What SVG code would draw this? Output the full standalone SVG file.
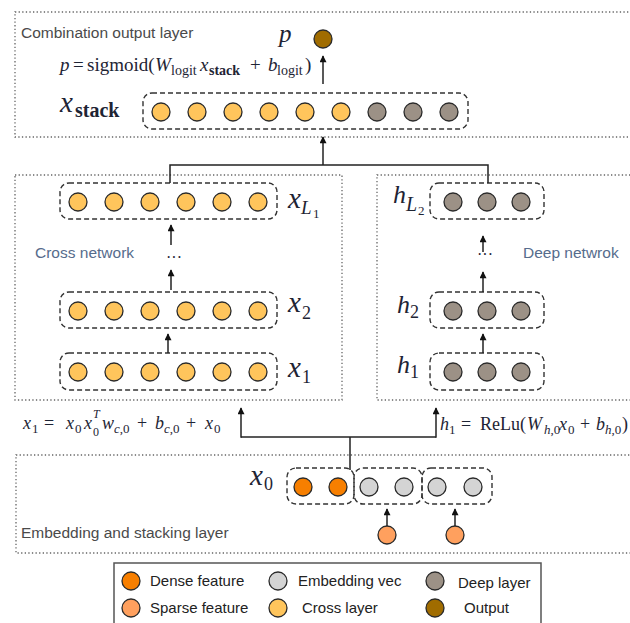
<svg xmlns="http://www.w3.org/2000/svg" width="630" height="623" viewBox="0 0 630 623">
<style>
.outer{fill:none;stroke:#666;stroke-width:1.3;stroke-dasharray:1.3 2.3}
.grp{fill:none;stroke:#333;stroke-width:1.4;stroke-dasharray:5 3}
.c{stroke:#2a2a2a;stroke-width:1.3}
.cross{fill:#FFC55C}
.deep{fill:#9C9186}
.emb{fill:#D4D4D4}
.dense{fill:#F77F00}
.sparse{fill:#FFA05E}
.out{fill:#A06C00}
.wire{fill:none;stroke:#222;stroke-width:1.5}
.arr{fill:none;stroke:#222;stroke-width:1.5;marker-end:url(#ah)}
.lbl{font-family:"Liberation Sans",Arial,sans-serif;font-size:15.5px}
.gray{fill:#4a4a4a}
.blue{fill:#566c8c}
.leg{font-family:"Liberation Sans",Arial,sans-serif;font-size:15px;fill:#222}
.math{font-family:"Liberation Serif","Times New Roman",serif;fill:#1e2434}
.it{font-style:italic}
</style>
<defs>
<marker id="ah" viewBox="0 0 10 10" refX="9" refY="5" markerWidth="8" markerHeight="7" orient="auto" markerUnits="userSpaceOnUse">
<path d="M0,0 L10,5 L0,10 z" fill="#111"/>
</marker>
</defs>

<!-- outer layer boxes -->
<g id="combination-layer">
<rect class="outer" x="15" y="12" width="640" height="125"/>
<text class="lbl gray" x="21" y="38">Combination output layer</text>
</g>
<g id="cross-network">
<rect class="outer" x="15" y="175" width="327" height="225"/>
<text class="lbl blue" x="35" y="258">Cross network</text>
</g>
<g id="deep-network">
<rect class="outer" x="377" y="175" width="270" height="225"/>
<text class="lbl blue" x="523" y="258">Deep netwrok</text>
</g>
<g id="embedding-layer">
<rect class="outer" x="16" y="455" width="640" height="98"/>
<text class="lbl gray" x="21" y="538">Embedding and stacking layer</text>
</g>

<!-- output -->
<g id="output">
<text class="math it" x="279" y="42" font-size="25">p</text>
<circle class="c out" cx="323" cy="39" r="9"/>
</g>
<g id="formula-p">
<text class="math" font-size="19" y="71"><tspan x="60" class="it">p</tspan><tspan x="73">=</tspan><tspan x="87">sigmoid(</tspan><tspan x="155" class="it">W</tspan><tspan x="171" y="75" font-size="14">logit</tspan><tspan x="200" y="71" class="it">x</tspan><tspan x="209" y="75" font-size="14" font-weight="bold">stack</tspan><tspan x="250" y="71">+</tspan><tspan x="268" class="it">b</tspan><tspan x="277" y="75" font-size="14">logit</tspan><tspan x="305" y="71">)</tspan></text>
</g>

<!-- stack -->
<g id="x-stack">
<text class="math" y="112"><tspan x="60" class="it" font-size="29">x</tspan><tspan x="75" y="117" font-size="20" font-weight="bold">stack</tspan></text>
<rect class="grp" x="143" y="93" width="325" height="36" rx="9"/>
<circle class="c cross" cx="161" cy="112" r="9"/>
<circle class="c cross" cx="197" cy="112" r="9"/>
<circle class="c cross" cx="233" cy="112" r="9"/>
<circle class="c cross" cx="269" cy="112" r="9"/>
<circle class="c cross" cx="305" cy="112" r="9"/>
<circle class="c cross" cx="341" cy="112" r="9"/>
<circle class="c deep" cx="377" cy="112" r="9"/>
<circle class="c deep" cx="413" cy="112" r="9"/>
<circle class="c deep" cx="449" cy="112" r="9"/>
</g>

<!-- cross layers -->
<g id="x-L1">
<rect class="grp" x="60" y="183" width="217" height="36" rx="9"/>
<circle class="c cross" cx="78" cy="202" r="9"/>
<circle class="c cross" cx="114" cy="202" r="9"/>
<circle class="c cross" cx="150" cy="202" r="9"/>
<circle class="c cross" cx="186" cy="202" r="9"/>
<circle class="c cross" cx="222" cy="202" r="9"/>
<circle class="c cross" cx="258" cy="202" r="9"/>
<text class="math" y="208"><tspan x="288" class="it" font-size="29">x</tspan><tspan x="301" y="214" class="it" font-size="19">L</tspan><tspan x="313" y="218" font-size="13">1</tspan></text>
</g>
<g id="x-2">
<rect class="grp" x="60" y="292" width="217" height="36" rx="9"/>
<circle class="c cross" cx="78" cy="311" r="9"/>
<circle class="c cross" cx="114" cy="311" r="9"/>
<circle class="c cross" cx="150" cy="311" r="9"/>
<circle class="c cross" cx="186" cy="311" r="9"/>
<circle class="c cross" cx="222" cy="311" r="9"/>
<circle class="c cross" cx="258" cy="311" r="9"/>
<text class="math" y="312"><tspan x="288" class="it" font-size="29">x</tspan><tspan x="302" y="319" font-size="18">2</tspan></text>
</g>
<g id="x-1">
<rect class="grp" x="60" y="353" width="217" height="37" rx="9"/>
<circle class="c cross" cx="78" cy="372" r="9"/>
<circle class="c cross" cx="114" cy="372" r="9"/>
<circle class="c cross" cx="150" cy="372" r="9"/>
<circle class="c cross" cx="186" cy="372" r="9"/>
<circle class="c cross" cx="222" cy="372" r="9"/>
<circle class="c cross" cx="258" cy="372" r="9"/>
<text class="math" y="377"><tspan x="288" class="it" font-size="29">x</tspan><tspan x="302" y="383" font-size="18">1</tspan></text>
</g>

<!-- deep layers -->
<g id="h-L2">
<rect class="grp" x="430" y="183" width="114" height="36" rx="9"/>
<circle class="c deep" cx="453" cy="202" r="9"/>
<circle class="c deep" cx="487" cy="202" r="9"/>
<circle class="c deep" cx="521" cy="202" r="9"/>
<text class="math" y="203"><tspan x="393" class="it" font-size="26">h</tspan><tspan x="406" y="211" class="it" font-size="20">L</tspan><tspan x="418" y="215" font-size="13">2</tspan></text>
</g>
<g id="h-2">
<rect class="grp" x="430" y="292" width="114" height="36" rx="9"/>
<circle class="c deep" cx="453" cy="311" r="9"/>
<circle class="c deep" cx="487" cy="311" r="9"/>
<circle class="c deep" cx="521" cy="311" r="9"/>
<text class="math" y="313"><tspan x="397" class="it" font-size="26">h</tspan><tspan x="410" y="318" font-size="18">2</tspan></text>
</g>
<g id="h-1">
<rect class="grp" x="430" y="353" width="114" height="37" rx="9"/>
<circle class="c deep" cx="453" cy="372" r="9"/>
<circle class="c deep" cx="487" cy="372" r="9"/>
<circle class="c deep" cx="521" cy="372" r="9"/>
<text class="math" y="373"><tspan x="397" class="it" font-size="26">h</tspan><tspan x="410" y="378" font-size="18">1</tspan></text>
</g>

<!-- formulas -->
<g id="formula-x1">
<text class="math" font-size="18" y="429"><tspan x="23" class="it">x</tspan><tspan x="32" y="433" font-size="13">1</tspan><tspan x="44" y="429">=</tspan><tspan x="66" class="it">x</tspan><tspan x="75" y="433" font-size="13">0</tspan><tspan x="84" y="429" class="it">x</tspan><tspan x="93" y="418" font-size="12" class="it">T</tspan><tspan x="93" y="436" font-size="12">0</tspan><tspan x="102" y="429" class="it">w</tspan><tspan x="114" y="433" font-size="13"><tspan class="it">c</tspan>,0</tspan><tspan x="137" y="429">+</tspan><tspan x="155" class="it">b</tspan><tspan x="164" y="433" font-size="13"><tspan class="it">c</tspan>,0</tspan><tspan x="186" y="429">+</tspan><tspan x="205" class="it">x</tspan><tspan x="214" y="433" font-size="13">0</tspan></text>
</g>
<g id="formula-h1">
<text class="math" font-size="18" y="430"><tspan x="440" class="it">h</tspan><tspan x="449" y="434" font-size="13">1</tspan><tspan x="461" y="430">=</tspan><tspan x="480">ReLu(</tspan><tspan x="527" class="it">W</tspan><tspan x="544" y="434" font-size="13"><tspan class="it">h</tspan>,0</tspan><tspan x="559" y="430" class="it">x</tspan><tspan x="568" y="434" font-size="13">0</tspan><tspan x="580" y="430">+</tspan><tspan x="596" class="it">b</tspan><tspan x="605" y="434" font-size="13"><tspan class="it">h</tspan>,0</tspan><tspan x="622" y="430">)</tspan></text>
</g>

<!-- embedding -->
<g id="x0">
<text class="math" y="485"><tspan x="250" class="it" font-size="29">x</tspan><tspan x="264" y="490" font-size="18">0</tspan></text>
<rect class="grp" x="287" y="468" width="67" height="36" rx="9"/>
<circle class="c dense" cx="303" cy="487" r="9"/>
<circle class="c dense" cx="338" cy="487" r="9"/>
</g>
<g id="emb-1">
<rect class="grp" x="354" y="468" width="68" height="36" rx="9"/>
<circle class="c emb" cx="369" cy="487" r="9"/>
<circle class="c emb" cx="404" cy="487" r="9"/>
</g>
<g id="emb-2">
<rect class="grp" x="422" y="468" width="70" height="36" rx="9"/>
<circle class="c emb" cx="437" cy="487" r="9"/>
<circle class="c emb" cx="473" cy="487" r="9"/>
</g>
<g id="sparse-1"><circle class="c sparse" cx="387" cy="535" r="9"/></g>
<g id="sparse-2"><circle class="c sparse" cx="455" cy="535" r="9"/></g>

<!-- connectors -->
<g id="connectors">
<line class="arr" x1="323" y1="84" x2="323" y2="56"/>
<polyline class="wire" points="170,183 170,165 488,165 488,183"/>
<line class="arr" x1="323" y1="165" x2="323" y2="137"/>
<line class="arr" x1="171" y1="245" x2="171" y2="225"/>
<text class="math" x="166" y="263" font-size="16">···</text>
<line class="arr" x1="171" y1="290" x2="171" y2="270"/>
<line class="arr" x1="168" y1="353" x2="168" y2="334"/>
<line class="arr" x1="483" y1="252" x2="483" y2="236"/>
<text class="math" x="477" y="260" font-size="16">···</text>
<line class="arr" x1="483" y1="292" x2="483" y2="272"/>
<line class="arr" x1="483" y1="353" x2="483" y2="334"/>
<polyline class="wire" points="241,437 436,437"/>
<line class="arr" x1="241" y1="437.75" x2="241" y2="408"/>
<line class="arr" x1="436" y1="437.75" x2="436" y2="408"/>
<line class="wire" x1="350" y1="437" x2="350" y2="470"/>
<line class="arr" x1="387" y1="526" x2="387" y2="509"/>
<line class="arr" x1="455" y1="526" x2="455" y2="509"/>
</g>

<!-- legend -->
<g id="legend">
<rect x="114" y="563" width="427" height="70" fill="none" stroke="#555" stroke-width="1.5"/>
<circle class="c dense" cx="131" cy="581" r="9"/>
<text class="leg" x="150" y="586">Dense feature</text>
<circle class="c sparse" cx="131" cy="608" r="9"/>
<text class="leg" x="150" y="613">Sparse feature</text>
<circle class="c emb" cx="278" cy="581" r="9"/>
<text class="leg" x="298" y="586">Embedding vec</text>
<circle class="c cross" cx="278" cy="608" r="9"/>
<text class="leg" x="302" y="613">Cross layer</text>
<circle class="c deep" cx="435" cy="581" r="9"/>
<text class="leg" x="458" y="588">Deep layer</text>
<circle class="c out" cx="435" cy="608" r="9"/>
<text class="leg" x="464" y="613">Output</text>
</g>
</svg>
